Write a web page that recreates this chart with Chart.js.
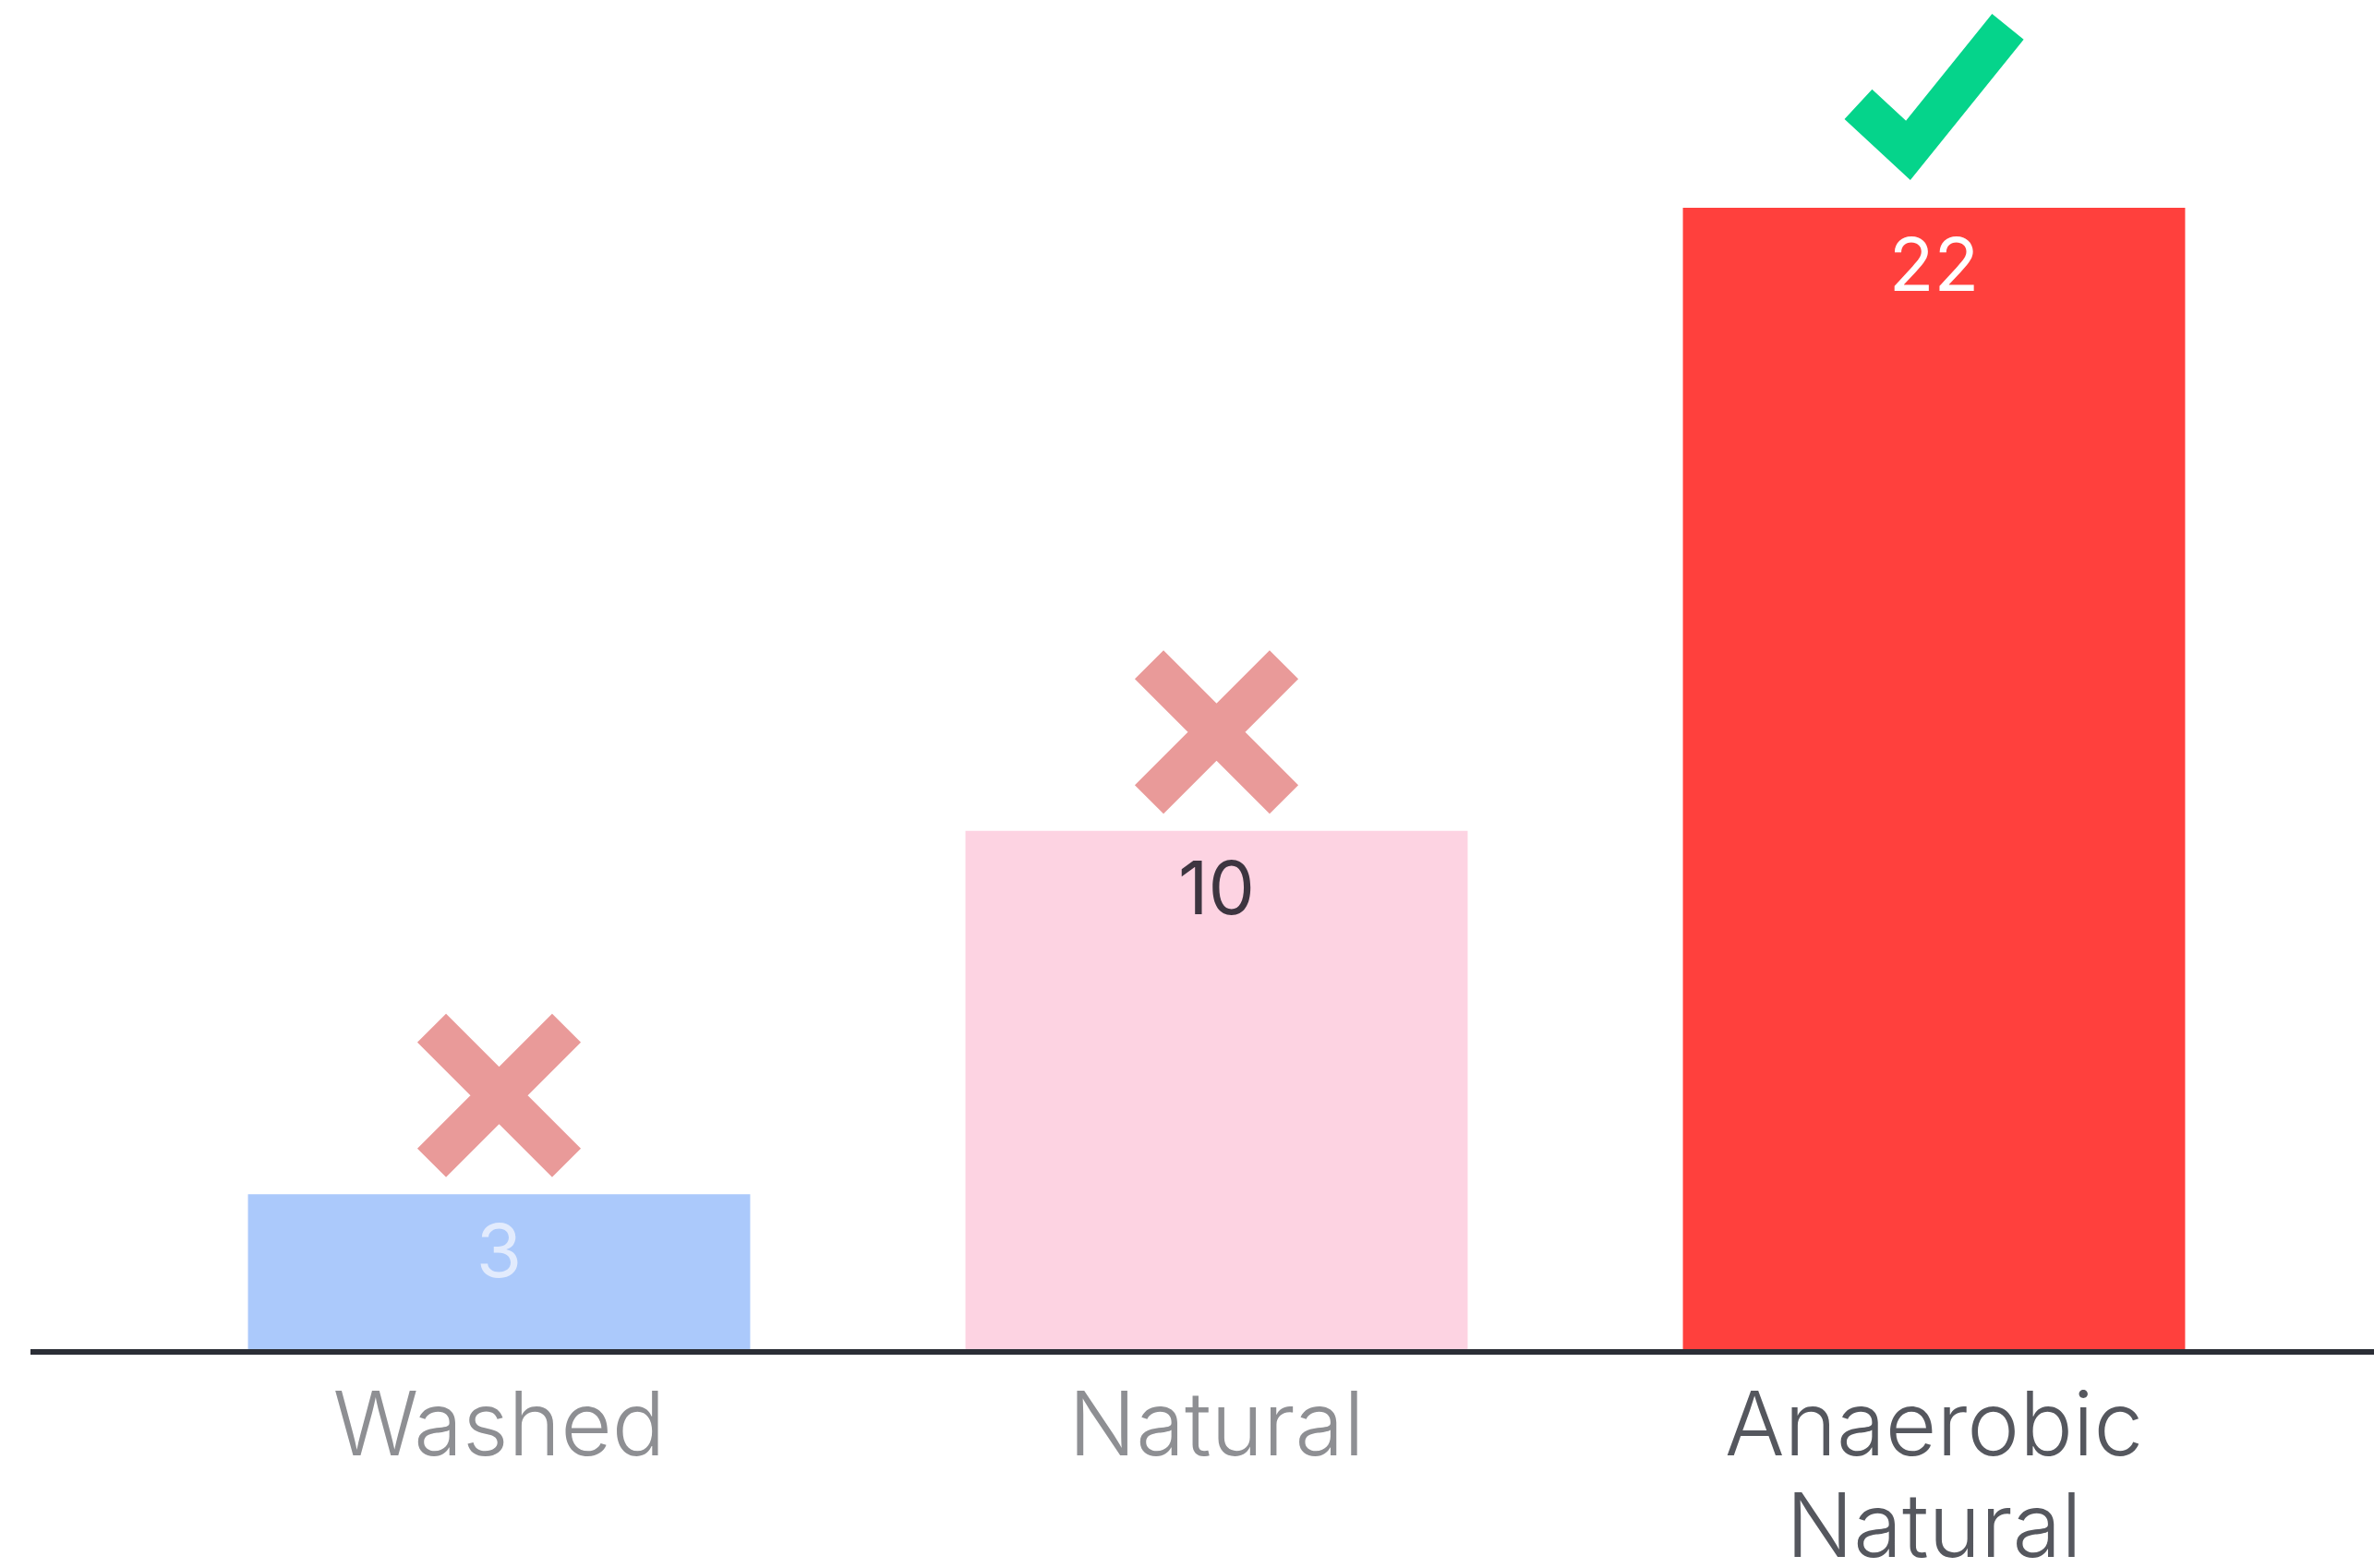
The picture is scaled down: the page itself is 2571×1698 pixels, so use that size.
<!DOCTYPE html>
<html>
<head>
<meta charset="utf-8">
<script src="https://cdn.jsdelivr.net/npm/chart.js@4"></script>
<style>
  html, body { margin: 0; padding: 0; background: #ffffff; }
  #wrap { width: 2571px; height: 1698px; }
</style>
</head>
<body>
<div id="wrap"><canvas id="chart" width="2571" height="1698"></canvas></div>
<script>
// data
var categories = [["Washed"], ["Natural"], ["Anaerobic", "Natural"]];
var scores = [3, 10, 22];
var verdicts = ["cross", "cross", "check"];

var barColors = ["#abc9fb", "#fdd3e2", "#ff403d"];
var valueColors = ["#e2ebfd", "#3d3540", "#ffffff"];
var labelColors = ["#8e8f93", "#8e8f93", "#55575e"];

// baseline across the whole width, value labels and verdict marks
var decorations = {
  id: "decorations",
  afterDatasetsDraw: function (chart) {
    var ctx = chart.ctx;
    var y0 = chart.scales.y.getPixelForValue(0);

    ctx.save();
    ctx.fillStyle = "#2b2e36";
    ctx.fillRect(33, y0 - 1, chart.width - 33, 6);

    var bars = chart.getDatasetMeta(0).data;
    bars.forEach(function (bar, i) {
      // value label inside the bar
      ctx.fillStyle = valueColors[i];
      ctx.font = "400 80px Inter";
      ctx.textAlign = "center";
      ctx.textBaseline = "middle";
      ctx.fillText(String(scores[i]), bar.x, bar.y + 66);

      // verdict mark above the bar
      if (verdicts[i] === "cross") {
        var cy = bar.y - 107;
        var a = 73;
        ctx.strokeStyle = "#e99a99";
        ctx.lineWidth = 44;
        ctx.lineCap = "butt";
        ctx.beginPath();
        ctx.moveTo(bar.x - a, cy - a);
        ctx.lineTo(bar.x + a, cy + a);
        ctx.moveTo(bar.x + a, cy - a);
        ctx.lineTo(bar.x - a, cy + a);
        ctx.stroke();
      } else {
        ctx.strokeStyle = "#05d48b";
        ctx.lineWidth = 44;
        ctx.lineCap = "butt";
        ctx.lineJoin = "miter";
        ctx.beginPath();
        ctx.moveTo(bar.x - 82, bar.y - 112);
        ctx.lineTo(bar.x - 28, bar.y - 62);
        ctx.lineTo(bar.x + 80, bar.y - 196);
        ctx.stroke();
      }
    });
    ctx.restore();
  }
};

var canvas = document.getElementById("chart").getContext("2d");
window.bar = new Chart(canvas, {
  type: "bar",
  data: {
    labels: categories,
    datasets: [{
      data: scores,
      backgroundColor: barColors,
      borderWidth: 0,
      barPercentage: 0.7,
      categoryPercentage: 1.0
    }]
  },
  options: {
    responsive: false,
    animation: false,
    devicePixelRatio: 1,
    layout: { padding: { left: 152, right: 88, top: 0, bottom: 0 } },
    plugins: {
      legend: { display: false },
      tooltip: { enabled: false }
    },
    scales: {
      y: { display: false, min: 0, max: 26 },
      x: {
        grid: { display: false, drawTicks: false },
        border: { display: false },
        ticks: {
          padding: 30,
          maxRotation: 0,
          autoSkip: false,
          font: { family: "Inter", size: 96, weight: 300, lineHeight: 1.15 },
          color: function (c) { return labelColors[c.index]; }
        },
        afterFit: function (scale) { scale.height = 236; }
      }
    }
  },
  plugins: [decorations]
});
</script>
</body>
</html>
